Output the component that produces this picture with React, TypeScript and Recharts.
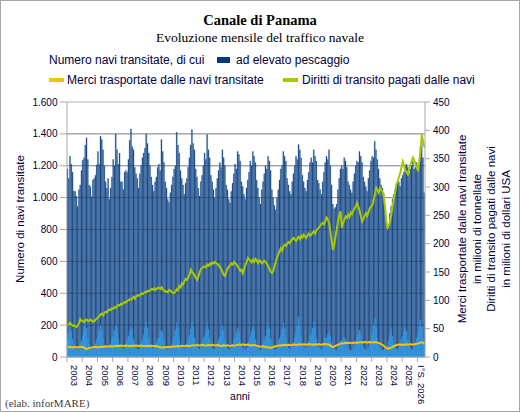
import React from 'react';
import { ComposedChart, Bar, Line, XAxis, YAxis, CartesianGrid, ReferenceLine } from 'recharts';

// ---- data (monthly, Jan 2003 .. Jun 2026) ----
const YEAR_LABELS = ['2003','2004','2005','2006','2007','2008','2009','2010','2011','2012','2013','2014','2015','2016','2017','2018','2019','2020','2021','2022','2023','2024','2025','I°S. 2026'];

const NAVI = [
  1180,1120,1260,1210,1160,1040,1040,1010,945,1050,1080,1170,
  1235,1250,1330,1375,1240,1080,1070,1005,1110,1120,1140,1205,
  1290,1210,1385,1365,1300,1200,1100,1060,1120,990,1060,1130,
  1240,1200,1400,1300,1210,1280,1100,1100,1050,1160,1170,1160,
  1240,1360,1430,1320,1300,1190,1150,1120,1060,1150,1200,1250,
  1280,1310,1400,1340,1280,1200,1130,1080,1040,1100,1130,1190,
  1210,1170,1365,1290,1220,1100,1060,990,970,1030,1080,1130,
  1180,1200,1410,1330,1280,1170,1120,1080,1020,1090,1120,1190,
  1250,1330,1427,1340,1300,1180,1130,1060,1010,1100,1140,1200,
  1280,1240,1396,1300,1250,1140,1100,1050,1000,1060,1120,1170,
  1220,1190,1300,1250,1200,1080,1050,990,966,1040,1090,1150,
  1210,1180,1290,1270,1230,1100,1070,1020,990,1060,1110,1160,
  1230,1200,1290,1260,1220,1110,1060,1000,960,1050,1100,1150,
  1200,1180,1260,1230,1170,1050,1000,950,924,1000,1050,1110,
  1180,1200,1290,1260,1230,1120,1080,1040,1020,1100,1150,1200,
  1260,1240,1333,1300,1250,1140,1100,1060,1040,1110,1160,1220,
  1250,1220,1300,1260,1230,1110,1090,1050,1020,1100,1160,1220,
  1260,1240,1300,1200,1080,960,930,940,960,1050,1120,1180,
  1200,1180,1250,1230,1190,1100,1080,1050,1030,1100,1150,1200,
  1230,1220,1290,1260,1220,1130,1100,1070,1040,1120,1170,1230,
  1260,1250,1354,1300,1240,1180,1120,1080,1060,1030,950,880,
  810,830,900,945,990,1020,1050,1080,1090,1100,1070,1120,
  1140,1160,1200,1210,1190,1150,1180,1200,1230,1180,1190,1220,
  1200,1210,1320,1350,1250,1030,
];

const ALTO = [
  120,150,180,160,110,70,60,50,45,60,80,100,
  130,170,220,180,120,80,60,50,50,65,85,110,
  130,160,200,170,110,75,60,50,45,60,80,105,
  125,165,200,175,115,80,65,55,50,60,85,110,
  130,160,190,170,110,75,60,50,45,60,85,110,
  140,180,220,180,120,80,65,55,50,65,90,115,
  120,150,170,150,100,70,55,45,40,55,75,100,
  130,170,215,175,115,75,60,50,45,60,85,110,
  135,175,220,185,120,80,65,55,50,65,90,115,
  130,165,210,175,115,75,60,50,45,60,85,110,
  125,160,200,165,110,70,55,45,45,60,80,105,
  120,150,180,155,105,70,55,45,40,55,80,100,
  125,160,190,165,110,70,55,45,40,55,80,105,
  130,170,210,175,115,75,60,50,45,60,90,115,
  135,175,215,180,120,80,60,50,45,65,90,120,
  150,200,252,200,130,85,65,55,50,70,100,130,
  140,180,220,185,120,80,60,50,45,65,90,120,
  120,140,157,130,90,60,50,45,45,60,80,100,
  100,115,126,110,80,55,45,40,40,55,75,95,
  120,145,168,140,100,65,50,45,45,60,85,110,
  150,200,243,190,120,75,55,45,40,45,50,60,
  70,100,140,179,130,85,60,50,45,60,85,110,
  130,160,189,160,110,75,60,50,45,60,90,120,
  150,190,231,190,120,80,
];

const MERCI = [
  17.5,17.2,17.8,17.0,16.8,17.4,17.9,17.2,16.9,17.6,17.8,18.0,
  17.6,16.5,15.0,14.2,14.8,16.0,16.5,17.0,17.3,17.8,18.1,17.6,
  17.0,17.4,17.9,18.2,17.8,18.4,18.9,18.5,18.2,18.8,19.0,18.7,
  18.9,19.2,19.6,19.8,19.3,19.6,20.1,19.7,19.4,19.9,20.3,19.8,
  19.6,19.2,19.7,20.0,19.5,19.9,20.3,19.8,19.4,19.9,20.2,19.6,
  19.3,19.0,19.5,19.8,19.1,19.6,20.0,19.4,18.9,19.3,19.0,18.4,
  17.8,17.2,16.8,16.6,16.9,17.4,17.8,17.5,17.2,17.8,18.3,18.6,
  18.2,18.6,19.0,19.3,18.8,19.2,19.7,19.3,19.0,19.6,20.1,19.5,
  19.3,19.8,20.5,20.8,20.2,20.6,21.2,20.7,20.3,21.0,21.4,20.8,
  20.5,20.2,20.9,21.3,20.6,21.0,21.5,20.9,20.4,20.9,21.2,20.7,
  20.0,19.6,20.2,20.5,19.8,20.3,20.7,20.1,19.6,20.2,20.6,20.0,
  20.4,20.9,21.6,21.9,21.2,21.7,22.3,21.6,21.0,21.5,21.9,21.2,
  20.8,20.3,20.9,21.3,20.5,20.0,19.4,18.6,18.0,18.4,18.8,18.2,
  17.6,17.2,16.8,17.0,16.5,16.9,17.8,18.4,19.0,19.6,20.1,20.4,
  20.8,20.4,21.0,21.4,20.8,21.2,21.7,21.2,20.8,21.4,21.9,21.5,
  21.8,21.4,22.0,22.3,21.7,22.1,22.6,22.0,21.6,22.2,22.7,22.3,
  22.0,21.6,22.2,22.6,21.9,22.3,22.8,22.2,21.7,22.4,22.9,22.5,
  22.3,21.9,21.5,20.2,18.6,17.4,18.2,19.5,20.6,21.8,22.8,23.6,
  24.2,23.8,24.5,25.0,24.6,24.9,25.4,24.8,24.3,24.9,25.5,25.1,
  25.4,25.0,25.8,26.2,25.7,26.1,26.6,26.0,25.5,26.1,26.5,26.0,
  25.6,25.9,26.4,26.0,25.3,24.6,23.8,22.9,21.5,19.8,17.6,15.6,
  14.9,15.1,15.8,16.9,18.0,19.2,20.3,21.0,21.6,22.0,21.7,22.1,
  21.8,21.4,22.0,22.4,21.8,22.2,22.7,22.1,21.8,22.4,22.9,23.4,
  24.1,24.7,25.5,26.1,25.0,23.6,
];

const DIRITTI = [
  58,57,60,57,55,56,54,53,56,60,67,64,
  63,62,65,66,63,64,66,64,62,63,66,68,
  70,72,75,77,74,78,80,79,82,84,83,86,
  85,88,87,90,92,91,94,93,95,97,96,99,
  100,102,101,104,106,103,107,109,108,110,112,111,
  113,115,114,117,116,118,120,119,121,118,120,122,
  122,120,123,119,117,115,116,114,118,117,115,113,
  113,116,120,118,125,123,130,128,134,138,136,140,
  145,154,150,148,144,140,136,142,150,155,157,159,
  160,158,163,161,165,163,167,165,168,166,164,162,
  158,155,150,145,143,150,156,160,162,165,163,168,
  166,163,160,156,152,154,148,155,162,168,175,172,
  170,167,172,168,173,170,166,171,169,165,167,170,
  168,164,160,156,150,148,152,160,168,176,182,186,
  192,188,195,198,196,200,203,201,205,208,210,207,
  205,209,212,208,214,211,216,213,210,215,218,214,
  216,219,222,218,224,226,229,232,235,237,234,240,
  246,242,236,220,205,189,198,212,226,240,250,257,
  228,236,242,248,246,251,247,255,252,258,262,266,
  272,265,258,248,239,244,250,254,249,256,262,265,
  268,276,287,299,295,290,298,294,292,284,265,240,
  228,232,240,252,268,280,292,305,310,318,325,335,
  345,338,330,326,322,332,340,345,352,348,340,335,
  328,345,365,393,380,370,
];

const LEFT_TICKS = [0, 200, 400, 600, 800, 1000, 1200, 1400, 1600];
const RIGHT_TICKS = [0, 50, 100, 150, 200, 250, 300, 350, 400, 450];

const data = NAVI.map((v, i) => ({
  m: i,
  navi: v,
  alto: ALTO[i],
  merci: MERCI[i],
  diritti: DIRITTI[i],
}));

// ---- layout ----
const W = 521;
const H = 413;
const PLOT_L = 67;
const PLOT_R = 425;
const PLOT_T = 102;
const X_AXIS_H = 56;
const N = NAVI.length;
const BAND = (PLOT_R - PLOT_L) / N;

const SANS = '"Liberation Sans", Arial, sans-serif';
const SERIF = '"Liberation Serif", "Times New Roman", serif';
const TXT = '#000040';
const AXIS = '#a8a8a8';
const DARK = '#073a78';
const DARK_EDGE = '#3d6ca6';
const LIGHT = '#1f8fe0';
const LIGHT_EDGE = '#44a6ea';
const YELLOW = '#f5c400';
const GREEN = '#a8c800';

const fmtIt = (v: number) => String(v).replace(/\B(?=(\d{3})+(?!\d))/g, '.');

function YearTick(props: any) {
  const { x, y, payload } = props;
  const i = Number(payload.value);
  const m = i % 12;
  const yi = Math.floor(i / 12);
  const left = x - BAND / 2;
  const monthsInYear = Math.min(12, N - yi * 12);
  const mid = Math.floor(monthsInYear / 2);
  return (
    <g>
      {m === 0 && <line x1={left} x2={left} y1={y} y2={y + 5} stroke={AXIS} strokeWidth={1} />}
      {m === mid && (
        <text
          transform={`translate(${left - 3.4},${y + 8}) rotate(90)`}
          fontSize={9.5}
          fontFamily={SANS}
          fill={TXT}
          textAnchor="start"
        >
          {YEAR_LABELS[yi]}
        </text>
      )}
    </g>
  );
}

export default function App() {
  return (
    <div style={{ position: 'absolute', left: 0, top: 0, width: W, height: H, background: '#fff' }}>
      <ComposedChart
        width={W}
        height={H}
        data={data}
        margin={{ top: PLOT_T, right: 0, bottom: 0, left: 0 }}
        barCategoryGap={0}
        barGap={0}
      >
        <CartesianGrid xAxisId="a" yAxisId="l" vertical={false} stroke="#b4b4b4" />
        <XAxis
          xAxisId="a"
          dataKey="m"
          type="category"
          interval={0}
          height={X_AXIS_H}
          tickSize={0}
          tickMargin={0}
          tickLine={false}
          axisLine={{ stroke: AXIS }}
          tick={<YearTick />}
        />
        <XAxis xAxisId="b" dataKey="m" type="category" hide />
        <YAxis
          yAxisId="l"
          orientation="left"
          width={PLOT_L}
          domain={[0, 1600]}
          ticks={LEFT_TICKS}
          interval={0}
          tickFormatter={fmtIt}
          tickSize={7}
          tickMargin={2.5}
          axisLine={{ stroke: AXIS }}
          tickLine={{ stroke: AXIS }}
          tick={{ fontSize: 10, fontFamily: SANS, fill: TXT }}
        />
        <YAxis
          yAxisId="r"
          orientation="right"
          width={W - PLOT_R}
          domain={[0, 450]}
          ticks={RIGHT_TICKS}
          interval={0}
          tickSize={5}
          tickMargin={3}
          axisLine={{ stroke: AXIS }}
          tickLine={{ stroke: AXIS }}
          tick={{ fontSize: 10, fontFamily: SANS, fill: TXT }}
        />
        <Bar xAxisId="a" yAxisId="l" dataKey="navi" fill={DARK} stroke={DARK_EDGE} strokeWidth={0.35} isAnimationActive={false} />
        <Bar xAxisId="b" yAxisId="l" dataKey="alto" fill={LIGHT} stroke={LIGHT_EDGE} strokeWidth={0.35} isAnimationActive={false} />
        {LEFT_TICKS.slice(1, -1).map((t) => (
          <ReferenceLine key={t} xAxisId="a" yAxisId="l" y={t} stroke="#203c62" strokeOpacity={0.35} />
        ))}
        <Line xAxisId="a" yAxisId="r" dataKey="merci" stroke={YELLOW} strokeWidth={2} dot={false} type="linear" isAnimationActive={false} />
        <Line xAxisId="a" yAxisId="r" dataKey="diritti" stroke={GREEN} strokeWidth={2} dot={false} type="linear" isAnimationActive={false} />
      </ComposedChart>

      <svg width={W} height={H} style={{ position: 'absolute', left: 0, top: 0, pointerEvents: 'none' }}>
        <rect x={0.5} y={0.5} width={519} height={411} fill="none" stroke="#a6a6a6" />
        <text x={260} y={25} textAnchor="middle" fontFamily={SERIF} fontWeight="bold" fontSize={14.5} fill="#000">
          Canale di Panama
        </text>
        <text x={260} y={41.5} textAnchor="middle" fontFamily={SERIF} fontSize={13.5} fill="#000">
          Evoluzione mensile del traffico navale
        </text>

        <text x={49} y={64.3} fontFamily={SANS} fontSize={12} fill={TXT}>Numero navi transitate, di cui</text>
        <rect x={217} y={57} width={13} height={6} fill={DARK} />
        <text x={236} y={64.3} fontFamily={SANS} fontSize={12} fill={TXT}>ad elevato pescaggio</text>

        <rect x={49} y={78} width={15} height={4} fill={YELLOW} />
        <text x={67} y={84.3} fontFamily={SANS} fontSize={12} fill={TXT}>Merci trasportate dalle navi transitate</text>
        <rect x={283} y={78} width={15} height={4} fill={GREEN} />
        <text x={302} y={84.3} fontFamily={SANS} fontSize={12} fill={TXT}>Diritti di transito pagati dalle navi</text>

        <text transform="translate(23.5,219) rotate(-90)" textAnchor="middle" fontFamily={SANS} fontSize={11.5} fill={TXT}>
          Numero di navi transitate
        </text>
        <text transform="translate(466,229) rotate(-90)" textAnchor="middle" fontFamily={SANS} fontSize={11.5} fill={TXT}>
          Merci trasportate dalle navi transitate
        </text>
        <text transform="translate(480.5,229) rotate(-90)" textAnchor="middle" fontFamily={SANS} fontSize={11.5} fill={TXT}>
          in milioni di tonnellate
        </text>
        <text transform="translate(495,229) rotate(-90)" textAnchor="middle" fontFamily={SANS} fontSize={11.5} fill={TXT}>
          Diritti di transito pagati dalle navi
        </text>
        <text transform="translate(509.5,229) rotate(-90)" textAnchor="middle" fontFamily={SANS} fontSize={11.5} fill={TXT}>
          in milioni di dollari USA
        </text>

        <text x={240} y={399.5} textAnchor="middle" fontFamily={SANS} fontSize={10.5} fill={TXT}>anni</text>
        <text x={5} y={407} fontFamily={SERIF} fontSize={11} fill="#404040">(elab. inforMARE)</text>
      </svg>
    </div>
  );
}
